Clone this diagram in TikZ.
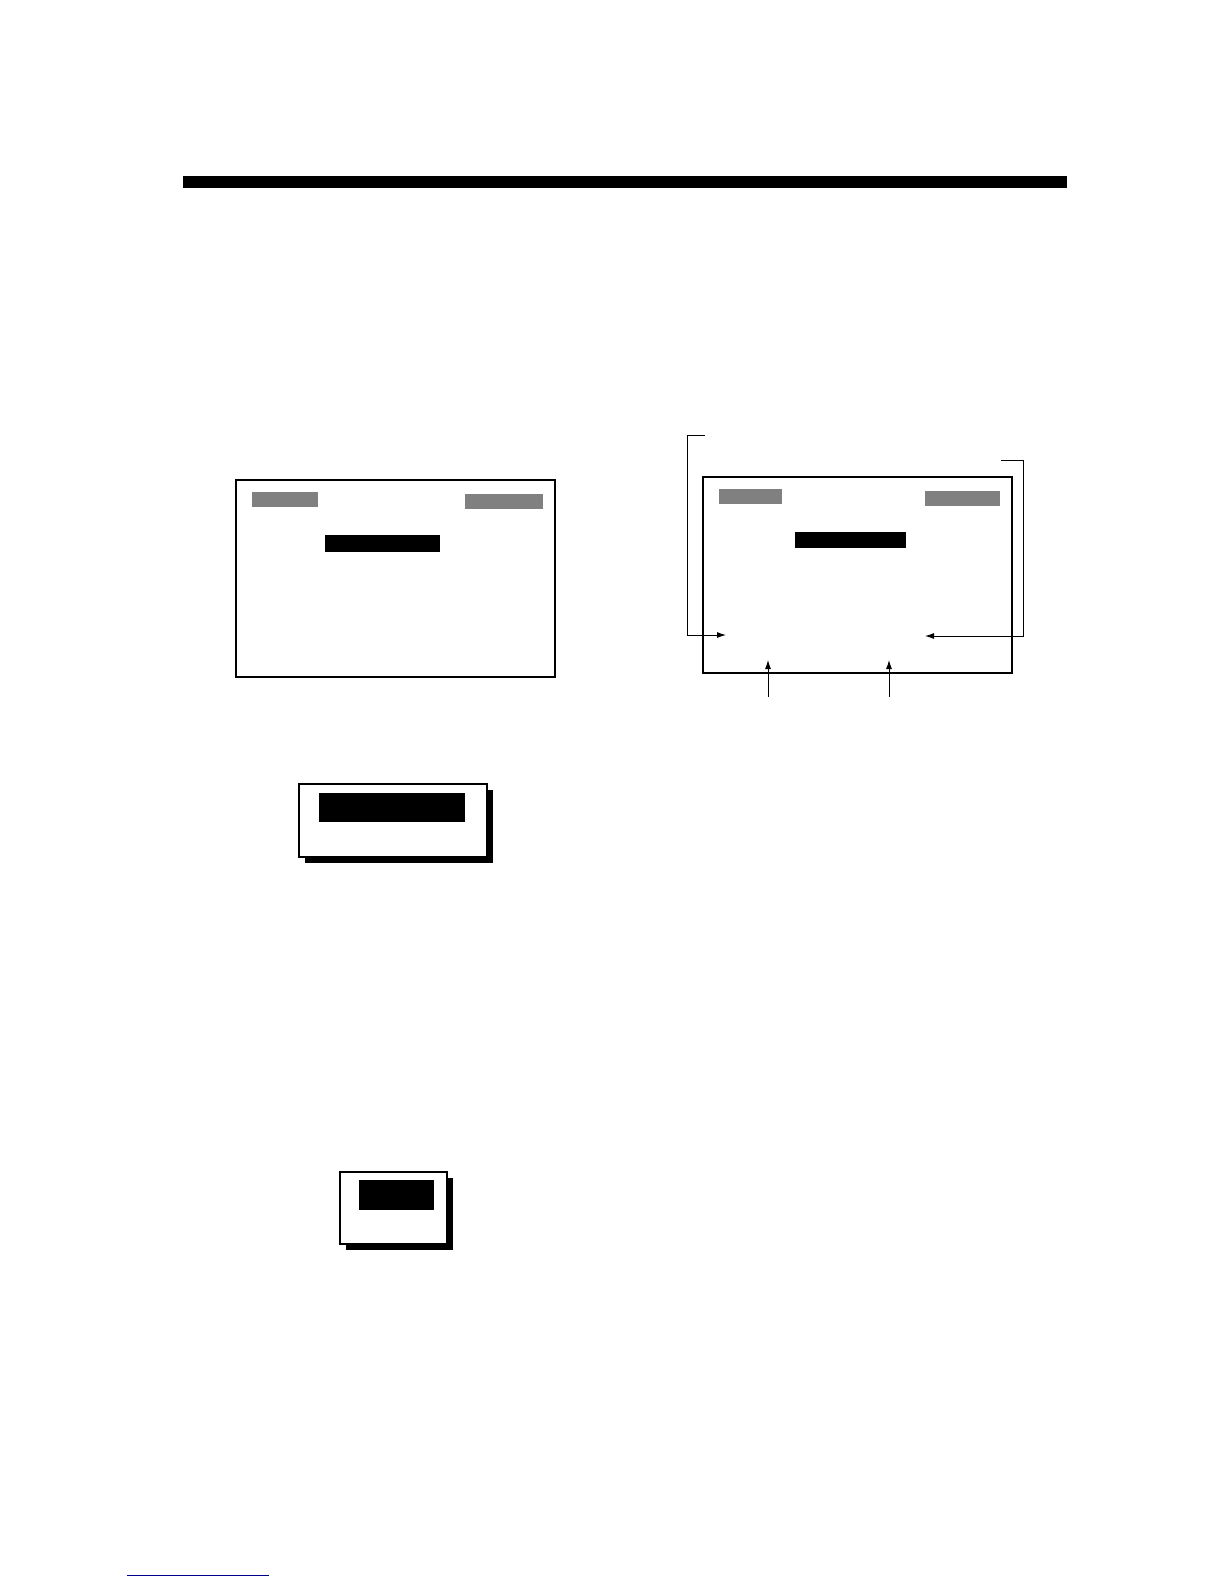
\documentclass[tikz,border=0pt]{standalone}
\usetikzlibrary{arrows.meta}
\begin{document}
\begin{tikzpicture}[x=0.05cm, y=-0.05cm]
  \useasboundingbox (0,0) rectangle (1224,1584);

  \tikzstyle{frame}=[draw, line width=2pt, fill=white]
  \tikzstyle{bar}=[fill=black!50]
  \tikzstyle{cursor}=[fill=black]
  \tikzstyle{lead}=[line width=1.3pt, -{Latex[length=4.5mm, width=3mm]}]

  % Titelbalken
  \fill (183,176) rectangle (1067,188);

  % Bildschirm links
  \draw[frame] (236,480) rectangle (555,677);
  \fill[bar] (252,492) rectangle (318,507);
  \fill[bar] (465,494) rectangle (543,509);
  \fill[cursor] (325,535) rectangle (440,552);

  % Bildschirm rechts
  \draw[frame] (703,477) rectangle (1012,673);
  \fill[bar] (719,489) rectangle (782,504);
  \fill[bar] (925,491) rectangle (1000,506);
  \fill[cursor] (795,532) rectangle (906,548);

  \coordinate (lt) at (705,435);
  \coordinate (lc) at (687,435);
  \coordinate (lb) at (687,635);
  \coordinate (la) at (726,635);
  \coordinate (rt) at (1001,460);
  \coordinate (rc) at (1023,460);
  \coordinate (rb) at (1023,636);
  \coordinate (ra) at (925,636);
  \coordinate (u1) at (768,697);
  \coordinate (v1) at (768,660);
  \coordinate (u2) at (889,697);
  \coordinate (v2) at (889,660);

  \draw[lead] (lt) -- (lc) -- (lb) -- (la);
  \draw[lead] (rt) -- (rc) -- (rb) -- (ra);
  \draw[lead] (u1) -- (v1);
  \draw[lead] (u2) -- (v2);

  % Fenster mit Schatten
  \fill (305,790) rectangle (493,863);
  \draw[frame] (299,784) rectangle (487,857);
  \fill[cursor] (319,793) rectangle (465,822);

  \fill (346,1178) rectangle (453,1250);
  \draw[frame] (340,1172) rectangle (447,1244);
  \fill[cursor] (359,1180) rectangle (434,1210);

  % Link
  \draw[blue!55!black, line width=1.4pt] (127,1575) -- (269,1575);
\end{tikzpicture}
\end{document}
